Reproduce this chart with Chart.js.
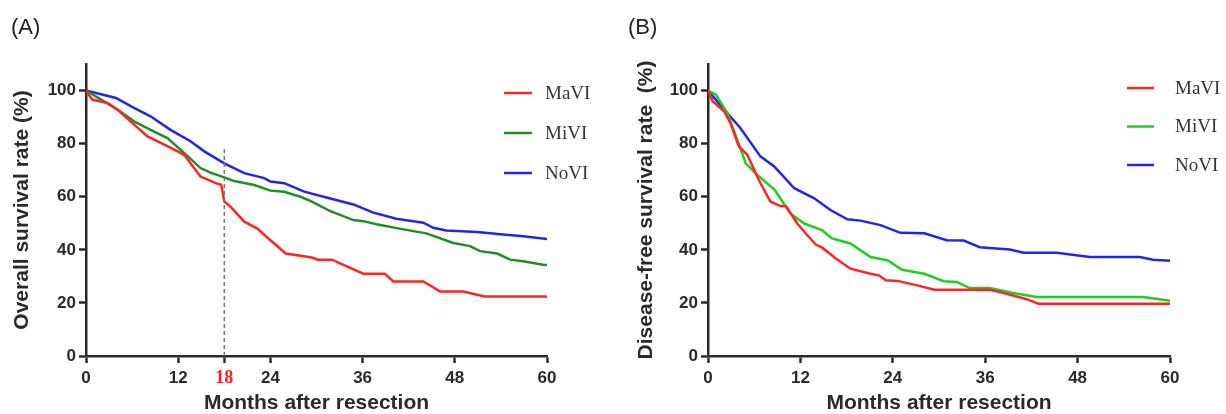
<!DOCTYPE html>
<html><head><meta charset="utf-8">
<script src="https://cdn.jsdelivr.net/npm/chart.js@4.4.1/dist/chart.umd.min.js"></script>
<style>
html,body{margin:0;padding:0;background:#fff;}
#wrap{position:relative;width:1226px;height:414px;overflow:hidden;background:#fff;}
canvas{position:absolute;top:0;}
</style></head><body>
<div id="wrap">
<canvas id="cA" width="613" height="414" style="left:0px"></canvas>
<canvas id="cB" width="613" height="414" style="left:613px"></canvas>
</div>
<script>
// ---------- Panel (A): Overall survival ----------
const osMaVI_months = [0, 0.8, 2.8, 4.1, 5.8, 8.0, 10.2, 12.8, 13.6, 14.9, 16.9, 17.6, 18.0, 18.8, 20.6, 22.3, 24.0, 26.0, 28.4, 29.5, 30.2, 32.0, 36.1, 38.9, 40.0, 43.9, 46.1, 49.1, 51.9, 60];
const osMaVI_rate   = [100, 96.6, 95.3, 92.8, 88.4, 82.7, 79.6, 75.8, 72.6, 67.6, 65.1, 64.5, 58.2, 56.3, 50.6, 48.0, 43.6, 38.6, 37.6, 37.0, 36.3, 36.3, 31.0, 31.0, 28.1, 28.1, 24.3, 24.3, 22.4, 22.4];

const osMiVI_months = [0, 2.3, 4.1, 6.25, 8.4, 10.6, 12.8, 14.9, 16.2, 18.0, 19.3, 21.9, 24.0, 25.8, 27.9, 29.2, 31.8, 34.8, 36.1, 37.8, 41.3, 44.3, 47.8, 50.0, 51.3, 53.5, 55.2, 56.9, 59.5, 60];
const osMiVI_rate   = [100, 96.0, 92.8, 88.4, 85.2, 82.1, 76.4, 70.8, 69.1, 67.3, 65.9, 64.4, 62.3, 61.9, 60.0, 58.4, 54.6, 51.2, 50.8, 49.6, 47.7, 46.2, 42.6, 41.4, 39.5, 38.6, 36.3, 35.7, 34.4, 34.3];

const osNoVI_months = [0, 3.9, 6.25, 8.4, 11.0, 13.6, 15.4, 18.0, 20.6, 23.2, 24.0, 25.8, 28.4, 31.3, 34.8, 37.4, 40.4, 43.9, 45.2, 46.9, 50.9, 54.3, 56.9, 60];
const osNoVI_rate   = [100, 97.2, 93.5, 90.3, 85.2, 80.9, 77.1, 72.6, 68.9, 67.0, 65.7, 65.1, 61.9, 59.7, 57.1, 54.0, 51.7, 50.2, 48.3, 47.3, 46.7, 45.8, 45.1, 44.1];

const cutoffMonth = 18;
const cutoffLineRange = [0, 79];
const xTicksA = [0, 12, 18, 24, 36, 48, 60];

// ---------- Panel (B): Disease-free survival ----------
const dfsMaVI_months = [0, 0.6, 2.1, 2.9, 4.0, 5.1, 6.6, 8.1, 9.4, 10.1, 11.6, 12.9, 14.0, 14.8, 16.6, 18.5, 21.1, 22.2, 23.1, 24.6, 27.2, 29.4, 36.6, 38.4, 41.4, 42.9, 60];
const dfsMaVI_rate   = [100, 96.0, 92.2, 87.8, 79.0, 75.8, 66.3, 58.2, 56.5, 56.5, 49.9, 45.5, 42.0, 40.9, 36.7, 32.9, 31.0, 30.4, 28.5, 28.3, 26.6, 25.0, 25.0, 23.7, 21.4, 19.7, 19.7];

const dfsMiVI_months = [0, 1.0, 2.5, 3.8, 4.9, 6.4, 8.6, 10.7, 12.5, 14.8, 16.1, 18.5, 21.1, 23.3, 25.2, 28.1, 30.6, 32.3, 34.0, 36.6, 39.6, 42.7, 56.5, 59.8, 60];
const dfsMiVI_rate   = [100, 98.5, 91.6, 81.5, 72.6, 68.2, 62.8, 53.7, 49.9, 47.4, 44.3, 42.4, 37.3, 36.1, 32.5, 31.0, 28.2, 27.9, 25.6, 25.6, 23.7, 22.2, 22.2, 20.9, 20.8];

const dfsNoVI_months = [0, 2.1, 4.2, 6.8, 8.6, 11.2, 13.8, 15.9, 18.1, 19.8, 22.4, 25.0, 28.1, 31.0, 33.2, 35.3, 39.2, 41.0, 45.3, 49.6, 56.1, 57.8, 60];
const dfsNoVI_rate   = [100, 92.8, 85.9, 75.2, 71.4, 63.2, 59.4, 55.0, 51.5, 51.0, 49.3, 46.4, 46.2, 43.6, 43.5, 41.0, 40.1, 38.9, 38.9, 37.3, 37.3, 36.3, 35.9];

const xTicksB = [0, 12, 24, 36, 48, 60];
const yTicks = [0, 20, 40, 60, 80, 100];
const groupLabels = ['MaVI', 'MiVI', 'NoVI'];

// ---------- helpers ----------
const pts = (xs, ys) => xs.map((x, i) => ({x: x, y: ys[i]}));
const SANS = "'Liberation Sans', Arial, sans-serif";
const SERIF = "'Liberation Serif', 'Times New Roman', serif";
const AXIS = '#2a2a2a';

const sideLegend = {
  id: 'sideLegend',
  afterDraw(chart, args, opts) {
    const ctx = chart.ctx;
    ctx.save();
    ctx.font = opts.font;
    ctx.textBaseline = 'middle';
    ctx.textAlign = 'left';
    let i = 0;
    chart.data.datasets.forEach(ds => {
      if (ds.inLegend === false) return;
      const y = opts.y + i * opts.gap;
      ctx.strokeStyle = ds.borderColor;
      ctx.lineWidth = ds.borderWidth;
      ctx.beginPath(); ctx.moveTo(opts.lineX1, y); ctx.lineTo(opts.lineX2, y); ctx.stroke();
      ctx.fillStyle = opts.color;
      ctx.fillText(ds.label, opts.textX, y + 1);
      i++;
    });
    ctx.restore();
  }
};

function scales(xTicks, yWidth, yTitle, yTitlePad) {
  const tickFont = {family: SANS, size: 17, weight: 'bold'};
  return {
    x: {
      type: 'linear', min: 0, max: 60,
      afterBuildTicks: s => { s.ticks = xTicks.map(v => ({value: v})); },
      afterFit: s => { s.height = 58; },
      grid: {display: true, drawOnChartArea: false, drawTicks: true, tickLength: 7, tickWidth: 2.5, tickColor: AXIS},
      border: {display: true, color: AXIS, width: 2.5},
      ticks: {
        padding: 5,
        maxRotation: 0, autoSkip: false,
        color: c => (c.tick && c.tick.value === cutoffMonth && xTicks.includes(18)) ? '#ff1a1a' : AXIS,
        font: c => (c.tick && c.tick.value === cutoffMonth && xTicks.includes(18)) ? {family: SERIF, size: 18, weight: 'bold'} : tickFont
      },
      title: {display: true, text: 'Months after resection', color: AXIS,
              font: {family: SANS, size: 21, weight: 'bold', lineHeight: 1}, padding: {top: 0, bottom: 0}}
    },
    y: {
      min: 0, max: 110,
      afterBuildTicks: s => { s.ticks = yTicks.map(v => ({value: v})); },
      afterFit: s => { s.width = yWidth; },
      grid: {display: true, drawOnChartArea: false, drawTicks: true, tickLength: 7, tickWidth: 2.5, tickColor: AXIS},
      border: {display: true, color: AXIS, width: 2.5},
      ticks: {padding: 3, color: AXIS, font: tickFont},
      title: {display: true, text: yTitle, color: AXIS,
              font: {family: SANS, size: 21, weight: 'bold', lineHeight: 1}, padding: {top: yTitlePad, bottom: 0}}
    }
  };
}

function lineDs(label, xs, ys, color) {
  return {label: label, data: pts(xs, ys), borderColor: color, backgroundColor: color,
          borderWidth: 2.5, pointRadius: 0, tension: 0, fill: false};
}

const red = '#ff2424', greenA = '#1f8f24', greenB = '#22cc22', blue = '#2424e8';

new Chart(document.getElementById('cA'), {
  type: 'line',
  data: {datasets: [
    {label: 'cutoff', inLegend: false, data: [{x: cutoffMonth, y: cutoffLineRange[0]}, {x: cutoffMonth, y: cutoffLineRange[1]}],
     borderColor: '#777', borderWidth: 1.5, borderDash: [4, 3], pointRadius: 0, fill: false},
    lineDs(groupLabels[0], osMaVI_months, osMaVI_rate, red),
    lineDs(groupLabels[1], osMiVI_months, osMiVI_rate, greenA),
    lineDs(groupLabels[2], osNoVI_months, osNoVI_rate, blue)
  ]},
  options: {
    responsive: false, animation: false, devicePixelRatio: 1,
    layout: {padding: {left: 11, right: 66, top: 0, bottom: 0}},
    plugins: {
      legend: {display: false}, tooltip: {enabled: false},
      title: {display: true, text: '(A)', align: 'start', color: '#222',
              font: {family: SANS, size: 22, weight: 'normal', lineHeight: 1.2}, padding: {top: 15, bottom: 22.6}},
      sideLegend: {font: "19px " + SERIF, color: '#333', lineX1: 504, lineX2: 532, textX: 545, y: 93, gap: 40}
    },
    scales: scales(xTicksA, 75, 'Overall survival rate (%)', 0.5)
  },
  plugins: [sideLegend]
});

new Chart(document.getElementById('cB'), {
  type: 'line',
  data: {datasets: [
    lineDs(groupLabels[0], dfsMaVI_months, dfsMaVI_rate, red),
    lineDs(groupLabels[1], dfsMiVI_months, dfsMiVI_rate, greenB),
    lineDs(groupLabels[2], dfsNoVI_months, dfsNoVI_rate, blue)
  ]},
  options: {
    responsive: false, animation: false, devicePixelRatio: 1,
    layout: {padding: {left: 15, right: 56, top: 0, bottom: 0}},
    plugins: {
      legend: {display: false}, tooltip: {enabled: false},
      title: {display: true, text: '(B)', align: 'start', color: '#222',
              font: {family: SANS, size: 22, weight: 'normal', lineHeight: 1.2}, padding: {top: 15, bottom: 22.6}},
      sideLegend: {font: "19px " + SERIF, color: '#333', lineX1: 514, lineX2: 541, textX: 562, y: 88, gap: 38.5}
    },
    scales: scales(xTicksB, 80, 'Disease-free survival rate  (%)', 7.5)
  },
  plugins: [sideLegend]
});
</script>
</body></html>
